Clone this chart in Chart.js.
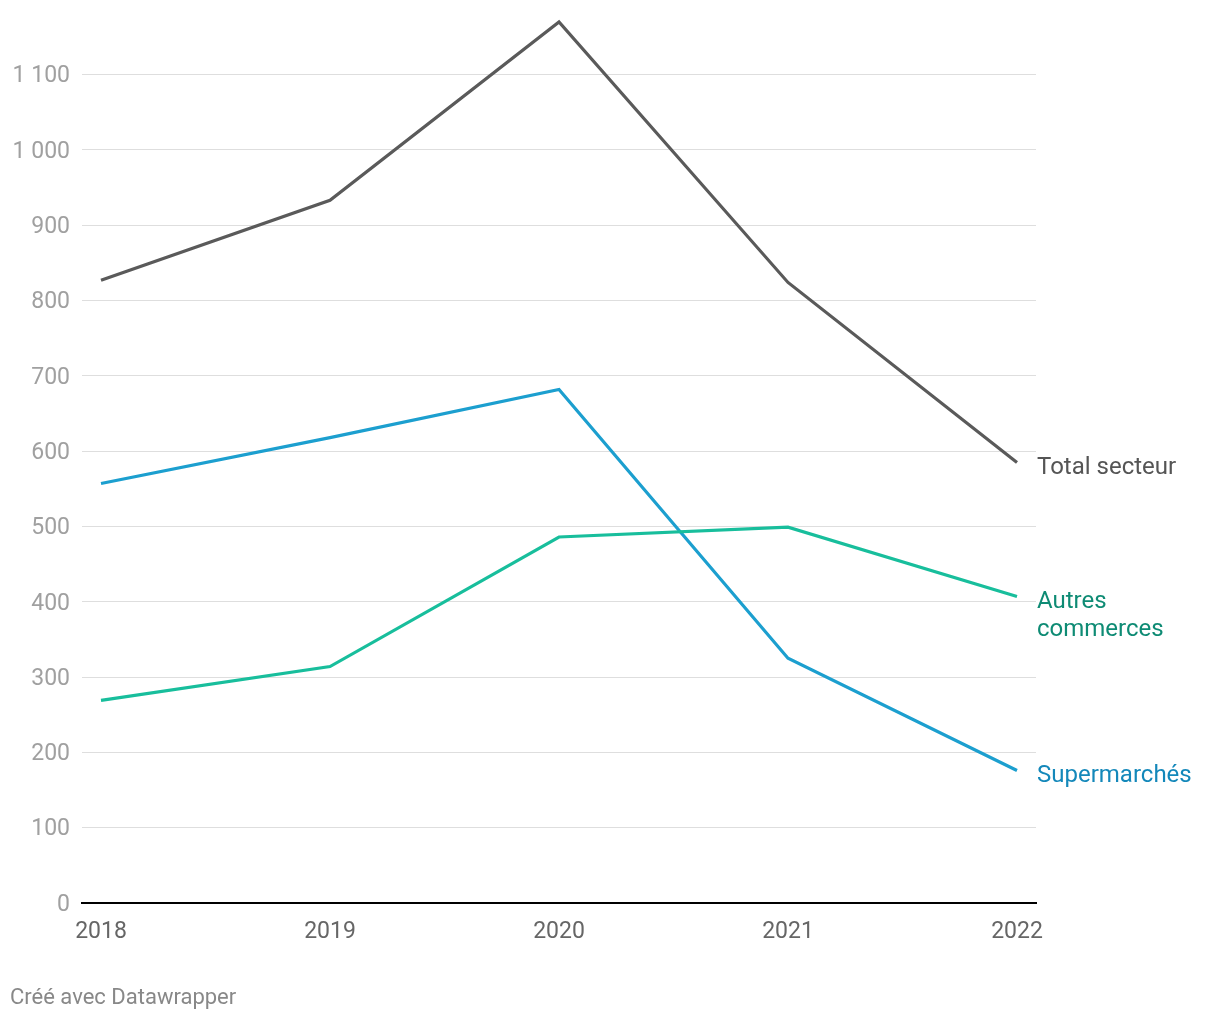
<!DOCTYPE html>
<html>
<head>
<meta charset="utf-8">
<script src="https://cdn.jsdelivr.net/npm/chart.js@4"></script>
<style>
  html, body { margin: 0; padding: 0; background: #fff; overflow: hidden; }
  #wrap { position: relative; width: 1220px; height: 1020px; overflow: hidden; }
  #chart { position: absolute; left: 0; top: -25px; }
  #footer { position: absolute; left: 10px; top: 984px; font: 22px Roboto, sans-serif; color: #888; }
</style>
</head>
<body>
<div id="wrap">
  <canvas id="chart" width="1220" height="1045"></canvas>
  <div id="footer">Créé avec Datawrapper</div>
</div>
<script>
const years = [2018, 2019, 2020, 2021, 2022];
const total = [827, 933, 1170, 824, 585];
const supermarches = [557, 618, 682, 325, 176];
const autres = [269, 314, 486, 499, 407];
const yTicks = [0, 100, 200, 300, 400, 500, 600, 700, 800, 900, 1000, 1100];

const series = [
  { label: ['Total secteur'], data: total, color: '#5a5a5a', text: '#555555' },
  { label: ['Autres', 'commerces'], data: autres, color: '#18be9c', text: '#0e8b74' },
  { label: ['Supermarchés'], data: supermarches, color: '#1c9fcf', text: '#1488ba' }
];

function fmt(v) {
  return String(v).replace(/\B(?=(\d{3})+(?!\d))/g, ' ');
}

// labels at the end of each line
const endLabels = {
  id: 'endLabels',
  afterDatasetsDraw(chart) {
    const ctx = chart.ctx;
    ctx.save();
    ctx.font = '24px Roboto, sans-serif';
    ctx.textBaseline = 'middle';
    ctx.textAlign = 'left';
    chart.data.datasets.forEach((ds, i) => {
      const meta = chart.getDatasetMeta(i);
      const pt = meta.data[meta.data.length - 1];
      ctx.fillStyle = series[i].text;
      series[i].label.forEach((line, j) => {
        ctx.fillText(line, chart.chartArea.right + 1, pt.y + 6 + j * 28);
      });
    });
    ctx.restore();
  }
};

new Chart(document.getElementById('chart'), {
  type: 'line',
  data: {
    datasets: series.map(s => ({
      label: s.label.join(' '),
      data: s.data.map((v, i) => ({ x: years[i], y: v })),
      borderColor: s.color,
      borderWidth: 3.2,
      pointRadius: 0,
      tension: 0,
      borderJoinStyle: 'miter'
    }))
  },
  options: {
    responsive: false,
    animation: false,
    layout: { padding: { left: 0, right: 184, top: 0, bottom: 60 } },
    plugins: { legend: { display: false }, tooltip: { enabled: false } },
    scales: {
      x: {
        type: 'linear',
        min: 2018 - 19 / 229,
        max: 2022 + 19 / 229,
        afterBuildTicks: axis => { axis.ticks = years.map(v => ({ value: v })); },
        afterFit: axis => { axis.height = 57; },
        grid: { display: false, drawTicks: false },
        border: { display: true, color: '#000', width: 2 },
        ticks: {
          padding: 15,
          color: '#666',
          font: { family: 'Roboto', size: 23 },
          callback: v => String(v),
          maxRotation: 0
        }
      },
      y: {
        min: 0,
        max: 1198,
        afterBuildTicks: axis => { axis.ticks = yTicks.map(v => ({ value: v })); },
        afterFit: axis => { axis.width = 82; },
        grid: { color: '#dedede', lineWidth: 1, drawTicks: false },
        border: { display: false },
        ticks: {
          padding: 12,
          labelOffset: 2,
          color: '#a0a0a0',
          font: { family: 'Roboto', size: 23 },
          callback: v => fmt(v)
        }
      }
    }
  },
  plugins: [endLabels]
});
</script>
</body>
</html>
